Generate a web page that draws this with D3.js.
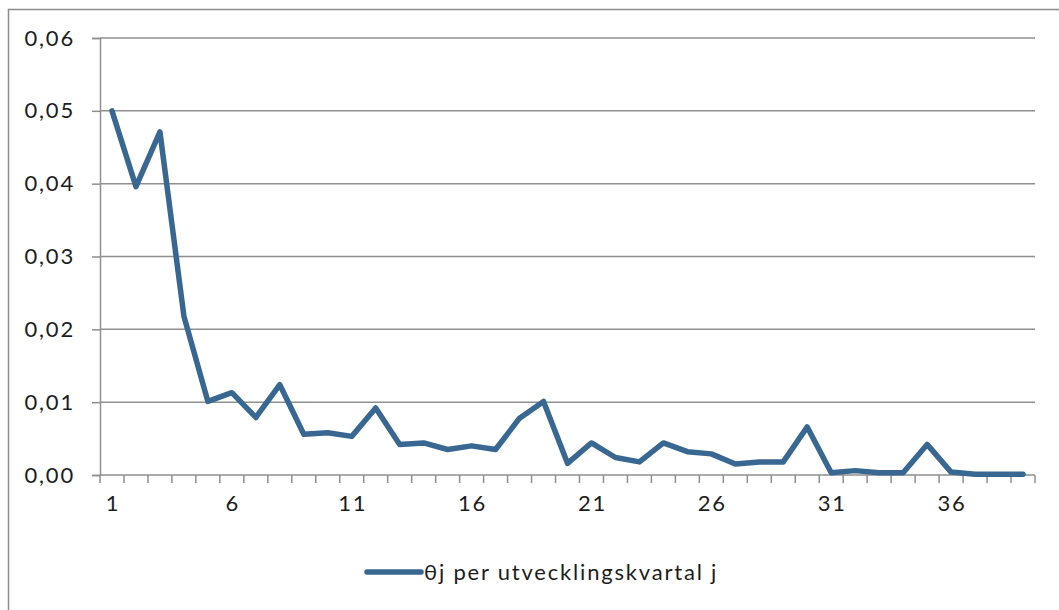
<!DOCTYPE html>
<html>
<head>
<meta charset="utf-8">
<script src="https://cdn.jsdelivr.net/npm/d3@7"></script>
<style>
  html, body { margin: 0; padding: 0; background: #fff; }
  svg { display: block; }
  text { font-family: Lato, "Open Sans", sans-serif; fill: #1d1d1d; letter-spacing: 1.8px; }
</style>
</head>
<body>
<svg id="chart" width="1059" height="610"></svg>
<script>
// Development quarters j = 1..39
const quarters = d3.range(1, 40);
// θj per development quarter
const theta = [
  0.0500, 0.0396, 0.0471, 0.0218, 0.0101, 0.0113, 0.0079, 0.0124, 0.0056, 0.0058,
  0.0053, 0.0092, 0.0042, 0.0044, 0.0035, 0.0040, 0.0035, 0.0078, 0.0101, 0.0016,
  0.0044, 0.0024, 0.0018, 0.0044, 0.0032, 0.0029, 0.0015, 0.0018, 0.0018, 0.0066,
  0.0003, 0.0006, 0.0003, 0.0003, 0.0042, 0.0004, 0.0001, 0.0001, 0.0001
];
const yTicks = [0, 0.01, 0.02, 0.03, 0.04, 0.05, 0.06];
const xLabels = [1, 6, 11, 16, 21, 26, 31, 36];
const seriesName = "θj per utvecklingskvartal j";

const svg = d3.select("#chart");
const plot = { left: 100, right: 1035, top: 38, bottom: 475 };

// chart frame
svg.append("rect")
  .attr("x", 8.5).attr("y", 9.5)
  .attr("width", 1100).attr("height", 700)
  .attr("fill", "#fff").attr("stroke", "#8c8c8c").attr("stroke-width", 1.5);

const x = d3.scaleBand().domain(quarters).range([plot.left, plot.right]);
const y = d3.scaleLinear().domain([0, 0.06]).range([plot.bottom, plot.top]);

// horizontal gridlines
svg.append("g").selectAll("line").data(yTicks.filter(d => d > 0)).join("line")
  .attr("x1", plot.left).attr("x2", plot.right)
  .attr("y1", d => y(d)).attr("y2", d => y(d))
  .attr("stroke", "#8f8f8f").attr("stroke-width", 1.5);

// y axis
const fmt = d => d3.format(".2f")(d).replace(".", ",");
const yAxis = svg.append("g").attr("transform", `translate(${plot.left},0)`)
  .call(d3.axisLeft(y).tickValues(yTicks).tickFormat(fmt).tickSize(8).tickPadding(17));
yAxis.select(".domain").attr("stroke", "#8f8f8f").attr("stroke-width", 1.5);
yAxis.selectAll(".tick line").attr("stroke", "#8f8f8f").attr("stroke-width", 1.5);
yAxis.selectAll("text").attr("font-size", 22).attr("fill", "#1d1d1d")
  .attr("font-family", "Lato, sans-serif");

// x axis: tick marks on category boundaries
const xg = svg.append("g").attr("transform", `translate(0,${plot.bottom})`);
xg.append("line").attr("x1", plot.left).attr("x2", plot.right)
  .attr("stroke", "#8f8f8f").attr("stroke-width", 1.5);
const bounds = quarters.map(q => x(q)).concat([plot.right]);
xg.selectAll("line.tk").data(bounds).join("line").attr("class", "tk")
  .attr("x1", d => d).attr("x2", d => d).attr("y1", 0).attr("y2", 8)
  .attr("stroke", "#8f8f8f").attr("stroke-width", 1.5);
xg.selectAll("text").data(xLabels).join("text")
  .attr("x", d => x(d) + x.bandwidth() / 2 + 1).attr("y", 36)
  .attr("text-anchor", "middle").attr("font-size", 22).text(d => d);

// series line
const line = d3.line()
  .x((d, i) => x(quarters[i]) + x.bandwidth() / 2)
  .y(d => y(d));
svg.append("path").datum(theta)
  .attr("d", line).attr("fill", "none")
  .attr("stroke", "#386792").attr("stroke-width", 5.5)
  .attr("stroke-linejoin", "round").attr("stroke-linecap", "round");

// legend
const lg = svg.append("g").attr("transform", "translate(367,572)");
lg.append("line").attr("x1", 0).attr("x2", 54).attr("y1", 0).attr("y2", 0)
  .attr("stroke", "#386792").attr("stroke-width", 5.5).attr("stroke-linecap", "round");
lg.append("text").attr("x", 57).attr("y", 8).attr("font-size", 22).text(seriesName);
</script>
</body>
</html>
